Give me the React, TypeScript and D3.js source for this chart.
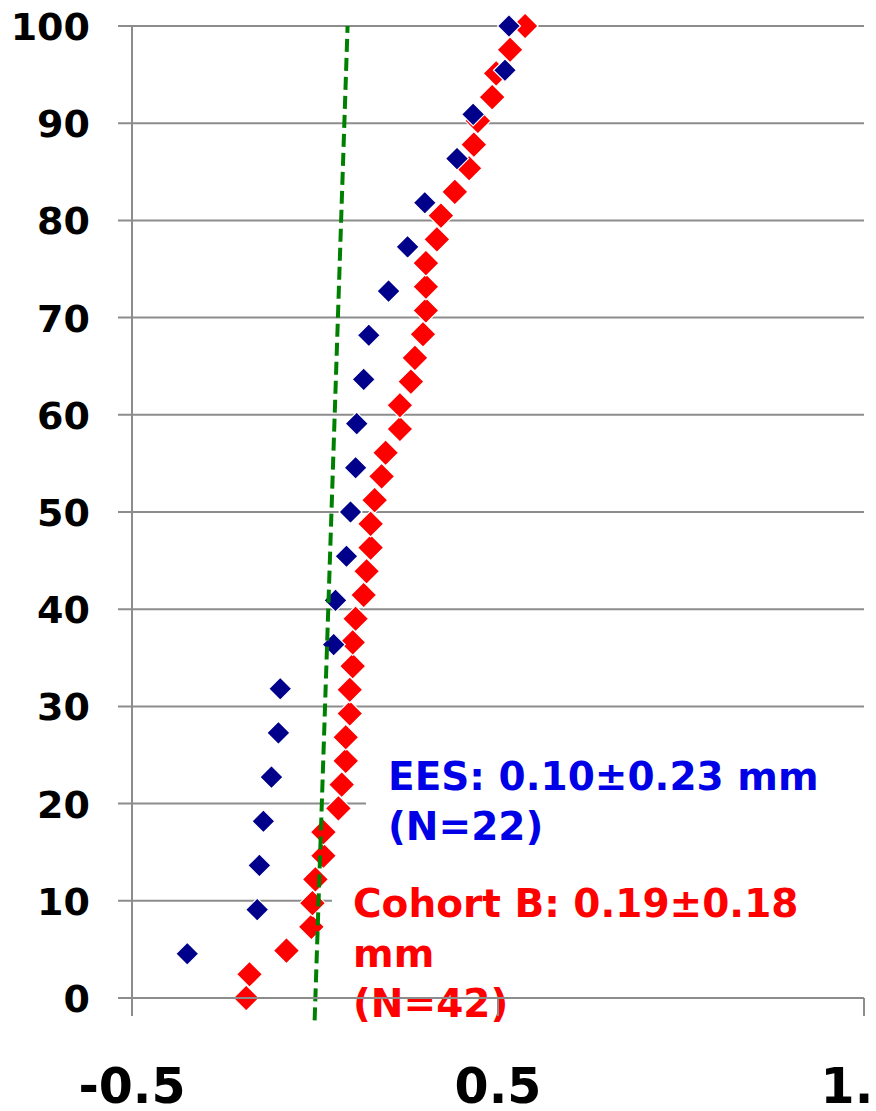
import React from "react";
import * as d3 from "d3";

const eesY: number[] = [4.55, 9.09, 13.64, 18.18, 22.73, 27.27, 31.82, 36.36, 40.91, 45.45, 50, 54.55, 59.09, 63.64, 68.18, 72.73, 77.27, 81.82, 86.36, 90.91, 95.45, 100];
const eesX: number[] = [-0.349, -0.158, -0.152, -0.141, -0.119, -0.1, -0.095, 0.051, 0.056, 0.086, 0.097, 0.111, 0.114, 0.133, 0.147, 0.201, 0.253, 0.3, 0.388, 0.432, 0.519, 0.53];

const cohortX: number[] = [-0.188, -0.179, -0.078, -0.01, -0.007, 0.001, 0.023, 0.023, 0.064, 0.073, 0.084, 0.084, 0.095, 0.095, 0.103, 0.103, 0.111, 0.133, 0.141, 0.152, 0.152, 0.163, 0.182, 0.193, 0.232, 0.232, 0.262, 0.273, 0.295, 0.303, 0.303, 0.303, 0.333, 0.344, 0.382, 0.421, 0.434, 0.445, 0.484, 0.495, 0.533, 0.574];
const cohortY: number[] = [0, 2.44, 4.88, 7.32, 9.76, 12.2, 14.63, 17.07, 19.51, 21.95, 24.39, 26.83, 29.27, 31.71, 34.15, 36.59, 39.02, 41.46, 43.9, 46.34, 48.78, 51.22, 53.66, 56.1, 58.54, 60.98, 63.41, 65.85, 68.29, 70.73, 73.17, 75.61, 78.05, 80.49, 82.93, 85.37, 87.8, 90.24, 92.68, 95.12, 97.56, 100];

const refLineX: number[] = [-0.001, 0.089];
const refLineY: number[] = [-2.3, 100];

const yTicks: number[] = [0, 10, 20, 30, 40, 50, 60, 70, 80, 90, 100];
const xTicks: number[] = [-0.5, 0.5, 1.5];
const xTickLabels: string[] = ["-0.5", "0.5", "1.5"];

const eesLabel: string[] = ["EES: 0.10\u00B10.23 mm", "(N=22)"];
const cohortLabel: string[] = ["Cohort B: 0.19\u00B10.18", "mm", "(N=42)"];

const W = 876;
const H = 1111;
const FONT = "'DejaVu Sans', Verdana, sans-serif";

export default function App() {
  const x = d3.scaleLinear().domain([-0.5, 1.5]).range([132, 864]);
  const y = d3.scaleLinear().domain([0, 100]).range([998, 26]);

  const diamond = (cx: number, cy: number, r: number) =>
    `M${cx},${cy - r}L${cx + r},${cy}L${cx},${cy + r}L${cx - r},${cy}Z`;

  const line = d3
    .line<number>()
    .x((_, i) => x(refLineX[i]))
    .y((d) => y(d));

  const gridColor = "#8c8c8c";

  return (
    <svg width={W} height={H} style={{ position: "absolute", left: 0, top: 0, background: "#fff" }}>
      {/* grid lines */}
      {yTicks.filter((t) => t !== 0).map((t) => {
        let x2 = x(1.5);
        if (t === 20) x2 = 366;
        if (t === 10) x2 = 332;
        return (
          <line key={t} x1={118} x2={x2} y1={y(t)} y2={y(t)} stroke={gridColor} strokeWidth={2} />
        );
      })}
      {/* y axis */}
      <line x1={x(-0.5)} x2={x(-0.5)} y1={y(100)} y2={y(0) + 18} stroke={gridColor} strokeWidth={2} />

      {/* y tick labels */}
      {yTicks.map((t) => (
        <text key={t} x={90} y={y(t) + 14} textAnchor="end" fontFamily={FONT} fontWeight="bold" fontSize={38} fill="#000">
          {t}
        </text>
      ))}

      {/* series */}
      {cohortX.map((v, i) => (
        <path key={"c" + i} d={diamond(x(v), y(cohortY[i]), 13)} fill="#ff0000" stroke="#fff" strokeWidth={1.2} />
      ))}
      {eesX.map((v, i) => (
        <path key={"e" + i} d={diamond(x(v), y(eesY[i]), 11.5)} fill="#00008b" stroke="#fff" strokeWidth={1.2} />
      ))}

      <path d={line(refLineY) || ""} fill="none" stroke="#008000" strokeWidth={4} strokeDasharray="13,6" />

      {/* annotation text */}
      {eesLabel.map((s, i) => (
        <text key={"el" + i} x={388} y={790 + i * 50} fontFamily={FONT} fontWeight="bold" fontSize={39} fill="#0000e6">
          {s}
        </text>
      ))}
      {cohortLabel.map((s, i) => (
        <text key={"cl" + i} x={353} y={917 + i * 50} fontFamily={FONT} fontWeight="bold" fontSize={39} fill="#ff0000">
          {s}
        </text>
      ))}

      {/* x axis on top */}
      <line x1={118} x2={x(1.5)} y1={y(0)} y2={y(0)} stroke={gridColor} strokeWidth={2} />
      {xTicks.map((t) => (
        <line key={t} x1={x(t)} x2={x(t)} y1={y(0)} y2={y(0) + 18} stroke={gridColor} strokeWidth={2} />
      ))}
      {xTicks.map((t, i) => (
        <text key={"xl" + t} x={x(t)} y={1103} textAnchor="middle" fontFamily={FONT} fontWeight="bold" fontSize={49} fill="#000">
          {xTickLabels[i]}
        </text>
      ))}
    </svg>
  );
}
